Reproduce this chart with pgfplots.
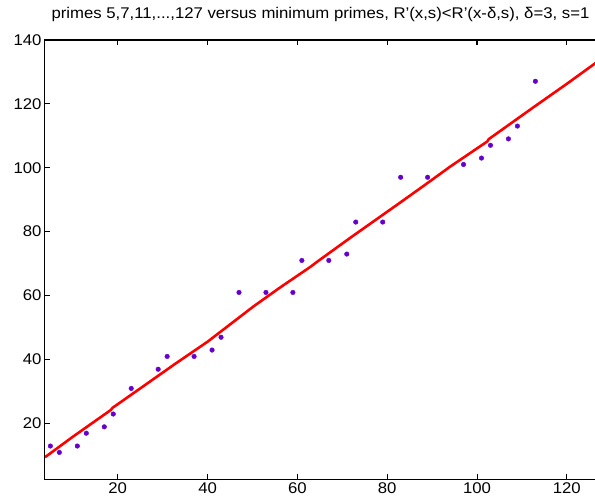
\documentclass[border=0pt]{standalone}
\usepackage{fontspec}
\setmainfont[FakeStretch=1.08]{Liberation Sans}
\usepackage{pgfplots}
\pgfplotsset{compat=1.18}
\definecolor{ptcol}{RGB}{102,0,204}
\begin{document}
\begin{tikzpicture}
\useasboundingbox (-45pt,-22.7pt) rectangle (550pt,479.3pt);
\begin{axis}[
  at={(0,0)}, anchor=south west,
  scale only axis, width=551pt, height=439.6pt,
  xmin=3.8, xmax=126.5, ymin=2.6, ymax=140,
  axis line style={black, line width=1pt},
  tick align=inside, major tick length=5pt,
  tick style={black, line width=1pt},
  ytick pos=left, xtick pos=both,
  xtick={20,40,...,120}, ytick={20,40,...,140},
  font=\fontsize{15.5}{18}\selectfont,
  /pgf/number format/assume math mode=true,
  title={primes 5,7,11,...,127 versus minimum primes, R'(x,s)<R'(x-δ,s), δ=3, s=1},
  title style={at={(0.5,1)}, anchor=base, yshift=15.5pt, inner sep=0pt},
  clip marker paths=true,
]
\addplot[red, line width=2.6pt] coordinates {
(3.8,9.5) (10,15.9) (18.5,24.3) (18.8,24.9) (25,31.0) (32.8,38.7) (40,45.6)
(50.2,56.6) (56,62.4) (62.8,68.9) (65,71.2) (72,78.3) (82.1,88.3) (88,94.2)
(94,100.3) (102.3,108.2) (102.6,108.9) (107,113.3) (112.6,118.9) (120,126.2) (126.5,132.8)
};
\addplot[only marks, mark=*, mark size=2.3pt, color=ptcol] coordinates {
(5,13) (7,11) (11,13) (13,17) (17,19) (19,23) (23,31) (29,37) (31,41) (37,41)
(41,43) (43,47) (47,61) (53,61) (59,61) (61,71) (67,71) (71,73) (73,83) (79,83)
(83,97) (89,97) (97,101) (101,103) (103,107) (107,109) (109,113) (113,127) (127,131)
};
\end{axis}
\draw[black, line width=1.2pt] (-0.5pt,439.1pt) -- (551pt,439.1pt);
\draw[black, line width=1.2pt]
  (72.75pt,439.6pt) -- (72.75pt,434pt)
  (162.56pt,439.6pt) -- (162.56pt,434pt)
  (252.37pt,439.6pt) -- (252.37pt,434pt)
  (342.18pt,439.6pt) -- (342.18pt,434pt)
  (431.99pt,439.6pt) -- (431.99pt,434pt)
  (521.80pt,439.6pt) -- (521.80pt,434pt);
\end{tikzpicture}
\end{document}
